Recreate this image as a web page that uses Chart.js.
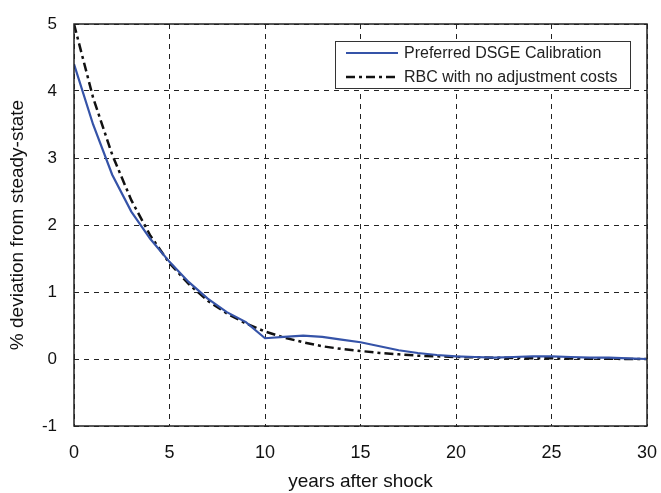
<!DOCTYPE html>
<html>
<head>
<meta charset="utf-8">
<script src="https://cdn.jsdelivr.net/npm/chart.js@4/dist/chart.umd.min.js"></script>
<style>
html,body{margin:0;padding:0;background:#fff;}
#wrap{width:661px;height:493px;}
</style>
</head>
<body>
<div id="wrap"><canvas id="c" width="661" height="493"></canvas></div>
<script>
const years = [0,1,2,3,4,5,6,7,8,9,10,11,12,13,14,15,16,17,18,19,20,21,22,23,24,25,26,27,28,29,30];
const dsgeValues = [4.4,3.5,2.75,2.2,1.79,1.45,1.15,0.9,0.7,0.55,0.31,0.33,0.35,0.33,0.29,0.25,0.19,0.13,0.09,0.06,0.04,0.03,0.02,0.03,0.04,0.04,0.03,0.02,0.02,0.01,0.0];
const rbcValues = [5.0,3.9,3.05,2.37,1.84,1.43,1.12,0.87,0.68,0.53,0.41,0.32,0.25,0.19,0.15,0.12,0.09,0.07,0.05,0.04,0.03,0.025,0.02,0.015,0.01,0.01,0.008,0.005,0.003,0.001,0.0];
const seriesLabels = ["Preferred DSGE Calibration","RBC with no adjustment costs"];
const xTicks = [0,5,10,15,20,25,30];
const yTicks = [-1,0,1,2,3,4,5];
const xTitle = "years after shock";
const yTitle = "% deviation from steady-state";

const FONT = "'Liberation Sans', Arial, Helvetica, sans-serif";

const framePlugin = {
  id: 'frame',
  afterDatasetsDraw(chart) {
    const {ctx, chartArea:a} = chart;
    ctx.save();
    ctx.strokeStyle = '#222';
    ctx.lineWidth = 1.5;
    ctx.setLineDash([]);
    ctx.strokeRect(a.left, a.top, a.right - a.left, a.bottom - a.top);
    ctx.restore();
  },
  afterDraw(chart) {
    const {ctx} = chart;
    const bx = 335, by = 41, bw = 295, bh = 47;
    ctx.save();
    ctx.fillStyle = '#fff';
    ctx.fillRect(bx, by, bw, bh);
    ctx.strokeStyle = '#333';
    ctx.lineWidth = 1;
    ctx.strokeRect(bx + 0.5, by + 0.5, bw, bh);
    ctx.font = '16px ' + FONT;
    ctx.textBaseline = 'middle';
    const rows = [53, 77];
    chart.data.datasets.forEach((ds, i) => {
      ctx.beginPath();
      ctx.strokeStyle = ds.borderColor;
      ctx.lineWidth = ds.borderWidth;
      ctx.setLineDash(ds.borderDash || []);
      ctx.moveTo(346, rows[i]);
      ctx.lineTo(398, rows[i]);
      ctx.stroke();
      ctx.setLineDash([]);
      ctx.fillStyle = '#222';
      ctx.fillText(ds.label, 404, rows[i] + 1);
    });
    ctx.restore();
  }
};

new Chart(document.getElementById('c'), {
  type: 'line',
  data: {
    datasets: [
      {
        label: seriesLabels[0],
        data: years.map((x, i) => ({x, y: dsgeValues[i]})),
        borderColor: '#3553a8',
        borderWidth: 2.2,
        pointRadius: 0,
        tension: 0,
        fill: false
      },
      {
        label: seriesLabels[1],
        data: years.map((x, i) => ({x, y: rbcValues[i]})),
        borderColor: '#111111',
        borderWidth: 2.5,
        borderDash: [9, 4, 3, 4],
        pointRadius: 0,
        tension: 0,
        fill: false
      }
    ]
  },
  options: {
    responsive: false,
    animation: false,
    devicePixelRatio: 1,
    layout: {padding: {left: 0, right: 14, top: 24, bottom: 0}},
    plugins: {legend: {display: false}, tooltip: {enabled: false}},
    scales: {
      x: {
        type: 'linear',
        min: 0, max: 30,
        afterBuildTicks: s => { s.ticks = xTicks.map(v => ({value: v})); },
        afterFit: s => { s.height = 67; s.paddingLeft = 0; s.paddingRight = 0; },
        grid: {color: '#222', lineWidth: 1, drawTicks: false},
        border: {display: false, dash: [5, 5]},
        ticks: {color: '#111', padding: 16, font: {family: FONT, size: 18}},
        title: {display: true, text: xTitle, color: '#111', font: {family: FONT, size: 19}, padding: {top: 0, bottom: 0}}
      },
      y: {
        type: 'linear',
        min: -1, max: 5,
        afterBuildTicks: s => { s.ticks = yTicks.map(v => ({value: v})); },
        afterFit: s => { s.width = 74; s.paddingTop = 0; s.paddingBottom = 0; },
        grid: {color: '#222', lineWidth: 1, drawTicks: false},
        border: {display: false, dash: [5, 5]},
        ticks: {color: '#111', padding: 17, font: {family: FONT, size: 17}},
        title: {display: true, text: yTitle, color: '#111', font: {family: FONT, size: 19}, padding: {top: 6, bottom: 0}}
      }
    }
  },
  plugins: [framePlugin]
});
</script>
</body>
</html>
